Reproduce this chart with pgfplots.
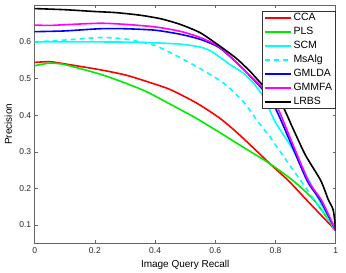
\documentclass[border=0pt]{standalone}
\usepackage{fontspec}
\setmainfont{Liberation Sans}
\usepackage{pgfplots}
\pgfplotsset{compat=1.18}
\definecolor{mred}{RGB}{255,0,0}
\definecolor{mgreen}{RGB}{0,235,0}
\definecolor{mcyan}{RGB}{0,255,255}
\definecolor{mblue}{RGB}{0,0,255}
\definecolor{mmag}{RGB}{255,0,255}
\begin{document}
\begin{tikzpicture}
\path[use as bounding box] (-34.7pt,-29.7pt) rectangle (311.3pt,243.3pt);
\begin{axis}[
  at={(0pt,0pt)}, anchor=south west,
  scale only axis, width=301pt, height=238pt,
  xmin=0, xmax=1, ymin=0.05, ymax=0.7,
  xtick={0,0.2,0.4,0.6,0.8,1},
  ytick={0.1,0.2,0.3,0.4,0.5,0.6},
  tick align=inside, tick pos=both,
  major tick length=3pt,
  /pgf/number format/assume math mode=true,
  ticklabel style={font=\fontsize{8.5}{10}\selectfont, color=black!85},
  xticklabel style={yshift=-1pt},
  axis line style={black!60, line width=0.6pt},
  every tick/.style={black!60, line width=0.5pt},
  xlabel={Image Query Recall},
  ylabel={Precision},
  xlabel style={font=\fontsize{13.5}{16}\selectfont},
  ylabel style={font=\fontsize{13}{16}\selectfont},
  every axis x label/.style={at={(axis description cs:0.5,-0.091)}, anchor=center},
  every axis y label/.style={at={(axis description cs:-0.088,0.5)}, anchor=center, rotate=90},
  legend style={at={(rel axis cs:1,0.977)}, anchor=north east,
    font=\fontsize{10.5}{12}\selectfont, draw=black!80,
    inner xsep=1.5pt, inner ysep=0.7pt, row sep=2pt, fill=white,
    nodes={inner xsep=2pt, inner ysep=0pt, text height=8.8pt, text depth=3.2pt}},
  legend cell align=left,
  legend image code/.code={\draw[#1, line width=1.8pt] plot coordinates {(0pt,0pt) (13pt,0pt) (26pt,0pt)};},
  every axis plot/.append style={line width=1.6pt},
]
\addplot[color=mred, smooth, tension=0.4] coordinates {
(0,0.544)(0.05,0.546)(0.1,0.540)(0.217,0.524)(0.3,0.510)(0.372,0.492)(0.45,0.470)(0.538,0.433)(0.616,0.391)(0.682,0.345)(0.782,0.267)(0.843,0.221)(0.906,0.166)(1,0.085)};
\addlegendentry{CCA}
\addplot[color=mgreen, smooth, tension=0.4] coordinates {
(0,0.535)(0.05,0.542)(0.1,0.538)(0.217,0.512)(0.3,0.488)(0.372,0.464)(0.45,0.430)(0.527,0.396)(0.6,0.36)(0.682,0.318)(0.782,0.267)(0.86,0.22)(0.93,0.166)(1,0.085)};
\addlegendentry{PLS}
\addplot[color=mcyan, smooth, tension=0.4] coordinates {
(0,0.600)(0.2,0.600)(0.35,0.599)(0.483,0.594)(0.55,0.586)(0.583,0.576)(0.616,0.558)(0.649,0.538)(0.693,0.515)(0.726,0.488)(0.76,0.45)(0.8,0.38)(0.859,0.304)(0.946,0.166)(1,0.085)};
\addlegendentry{SCM}
\addplot[color=mcyan, dash pattern=on 5pt off 4pt, smooth, tension=0.4] coordinates {
(0,0.600)(0.1,0.605)(0.217,0.612)(0.3,0.608)(0.4,0.590)(0.483,0.557)(0.55,0.527)(0.627,0.488)(0.693,0.437)(0.738,0.386)(0.782,0.34)(0.85,0.26)(0.931,0.166)(1,0.085)};
\addlegendentry{MsAlg}
\addplot[color=mblue, smooth, tension=0.4] coordinates {
(0,0.628)(0.1,0.630)(0.217,0.636)(0.3,0.636)(0.4,0.632)(0.483,0.621)(0.55,0.607)(0.616,0.583)(0.7,0.52)(0.785,0.442)(0.845,0.335)(0.905,0.221)(0.95,0.166)(1,0.085)};
\addlegendentry{GMLDA}
\addplot[color=mmag, smooth, tension=0.4] coordinates {
(0,0.646)(0.05,0.645)(0.1,0.647)(0.217,0.651)(0.3,0.648)(0.4,0.641)(0.483,0.629)(0.55,0.612)(0.616,0.585)(0.7,0.52)(0.793,0.442)(0.85,0.335)(0.909,0.221)(0.954,0.166)(1,0.085)};
\addlegendentry{GMMFA}
\addplot[color=black, smooth, tension=0.4] coordinates {
(0,0.691)(0.1,0.688)(0.2,0.683)(0.27,0.680)(0.35,0.673)(0.42,0.663)(0.483,0.648)(0.55,0.625)(0.616,0.588)(0.67,0.555)(0.715,0.520)(0.76,0.48)(0.813,0.442)(0.86,0.36)(0.9,0.29)(0.95,0.222)(0.975,0.17)(0.992,0.14)(1,0.085)};
\addlegendentry{LRBS}
\end{axis}
\end{tikzpicture}
\end{document}
